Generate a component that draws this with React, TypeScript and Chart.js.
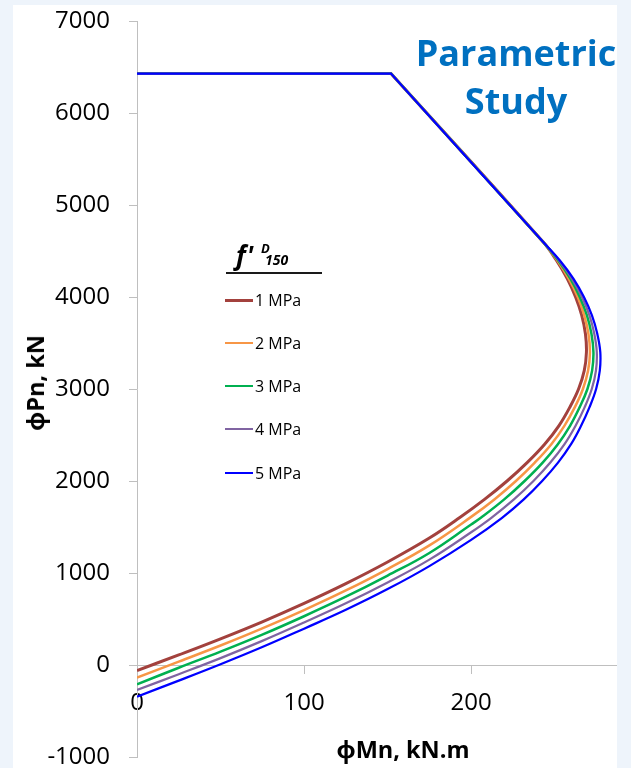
import React, { useEffect, useRef } from "react";
import { Chart, registerables } from "chart.js";

Chart.register(...registerables);

const FONT = '"Open Sans", "Noto Sans", "DejaVu Sans", sans-serif';

// ---- data ----
const seriesLabels = ["1 MPa", "2 MPa", "3 MPa", "4 MPa", "5 MPa"];
const seriesColors = ["#A3413D", "#F79646", "#00B050", "#8064A2", "#0000FF"];
const seriesWidths = [3, 2.5, 2.5, 2.25, 2.25];

// shared compression branch: plateau then straight descent (kink listed twice so it stays sharp)
const capMn = [0, 152, 152, 243];
const capPn = [6429, 6429, 6429, 4600];

const mn1 = [251, 257.5, 262.5, 266.2, 268.4, 269, 267.7, 264.3, 259, 252.5, 244, 233.5, 221.5, 208, 193, 175, 150, 125, 100, 75, 50, 25, 0];
const pn1 = [4400, 4200, 4000, 3800, 3600, 3400, 3200, 3000, 2800, 2600, 2400, 2200, 2000, 1800, 1600, 1380, 1120, 885, 670, 470, 285, 110, -60];

const mn2 = [251.5, 258.4, 263.8, 267.7, 270.2, 271.1, 270, 266.9, 262, 255.8, 248, 238.1, 226.8, 213.9, 200, 175, 150, 125, 100, 75, 50, 25, 0];
const pn2 = [4400, 4200, 4000, 3800, 3600, 3400, 3200, 3000, 2800, 2600, 2400, 2200, 2000, 1800, 1610, 1300, 1043, 810, 597, 398, 212, 37, -138];

const mn3 = [252, 259.4, 265, 269.3, 272, 273.2, 272.4, 269.6, 264.9, 259.2, 251.9, 242.8, 232, 219.8, 205.8, 200, 175, 150, 125, 100, 75, 50, 25, 0];
const pn3 = [4400, 4200, 4000, 3800, 3600, 3400, 3200, 3000, 2800, 2600, 2400, 2200, 2000, 1800, 1600, 1527, 1218, 972, 742, 530, 330, 145, -30, -210];

const mn4 = [252.5, 260.3, 266.3, 270.8, 273.7, 275.2, 274.7, 272.2, 267.9, 262.5, 255.9, 247.4, 237.3, 225.6, 212.1, 200, 175, 150, 125, 100, 75, 50, 25, 0];
const pn4 = [4400, 4200, 4000, 3800, 3600, 3400, 3200, 3000, 2800, 2600, 2400, 2200, 2000, 1800, 1600, 1443, 1145, 897, 670, 462, 262, 75, -100, -271];

const mn5 = [253, 261.2, 267.5, 272.3, 275.5, 277.3, 277, 274.8, 270.8, 265.8, 259.8, 252, 242.5, 231.5, 218.5, 200, 175, 150, 125, 100, 75, 50, 25, 0];
const pn5 = [4400, 4200, 4000, 3800, 3600, 3400, 3200, 3000, 2800, 2600, 2400, 2200, 2000, 1800, 1600, 1360, 1075, 825, 600, 395, 195, 8, -170, -344];

const mnSeries = [mn1, mn2, mn3, mn4, mn5];
const pnSeries = [pn1, pn2, pn3, pn4, pn5];

const xTickValues = [0, 100, 200];
const xMin = 0;
const xMax = 287;
const yTickValues = [-1000, 0, 1000, 2000, 3000, 4000, 5000, 6000, 7000];

const legendTitleMain = "f'";
const legendTitleSup = "D";
const legendTitleSub = "150";
const xTitle = "ϕMn, kN.m";
const yTitle = "ϕPn, kN";
const noteLines = ["Parametric", "Study"];

const AXIS_GREY = "#BFBFBF";

export default function App() {
  const ref = useRef<HTMLCanvasElement | null>(null);

  useEffect(() => {
    document.body.style.margin = "0";
    const canvas = ref.current;
    if (!canvas) return;
    const datasets = seriesLabels.map((label, i) => ({
      label,
      data: [
        ...capMn.map((x, j) => ({ x, y: capPn[j] })),
        ...mnSeries[i].map((x, j) => ({ x, y: pnSeries[i][j] })),
      ],
      borderColor: seriesColors[i],
      backgroundColor: seriesColors[i],
      borderWidth: seriesWidths[i],
      showLine: true,
      pointRadius: 0,
      pointHoverRadius: 0,
      tension: 0.4,
      fill: false,
      order: seriesLabels.length - 1 - i,
    }));

    const chart = new Chart(canvas, {
      type: "scatter",
      data: { datasets },
      options: {
        animation: false,
        responsive: false,
        devicePixelRatio: 1,
        events: [],
        layout: { padding: { top: 21, right: 14.5, bottom: 11, left: 0 } },
        plugins: {
          legend: { display: false },
          tooltip: { enabled: false },
        },
        scales: {
          x: {
            type: "linear",
            position: { y: 0 },
            min: xMin,
            max: xMax,
            afterBuildTicks: (s: any) => {
              s.ticks = xTickValues.map((v) => ({ value: v }));
            },
            ticks: {
              font: { family: FONT, size: 24 },
              color: "#000",
              padding: 16,
              maxRotation: 0,
              autoSkip: false,
              callback: (v: any) => String(v),
            },
            grid: {
              drawOnChartArea: false,
              drawTicks: true,
              tickLength: 8,
              color: AXIS_GREY,
              tickColor: AXIS_GREY,
              lineWidth: 1,
            },
            border: { display: true, color: AXIS_GREY, width: 1 },
          },
          y: {
            type: "linear",
            min: yTickValues[0],
            max: yTickValues[yTickValues.length - 1],
            afterBuildTicks: (s: any) => {
              s.ticks = yTickValues.map((v) => ({ value: v }));
            },
            afterFit: (s: any) => {
              s.width = 137;
              s.paddingTop = 0;
              s.paddingBottom = 0;
            },
            ticks: {
              font: { family: FONT, size: 24, lineHeight: 0.9 },
              color: "#000",
              padding: 19,
              autoSkip: false,
              callback: (v: any) => String(v),
            },
            grid: {
              drawOnChartArea: false,
              drawTicks: true,
              tickLength: 8,
              color: AXIS_GREY,
              tickColor: AXIS_GREY,
              lineWidth: 1,
            },
            border: { display: true, color: AXIS_GREY, width: 1 },
          },
        },
      },
    });
    return () => chart.destroy();
  }, []);

  const itemY = [300, 343, 386, 429, 473];

  return (
    <div
      style={{
        position: "relative",
        width: 631,
        height: 768,
        background: "#EEF4FB",
        overflow: "hidden",
        fontFamily: FONT,
      }}
    >
      <div
        style={{
          position: "absolute",
          left: 13,
          top: 5,
          width: 604,
          height: 763,
          background: "#FFFFFF",
        }}
      />
      <canvas
        ref={ref}
        width={631}
        height={768}
        style={{ position: "absolute", left: 0, top: 0, width: 631, height: 768 }}
      />

      {/* axis titles */}
      <div
        style={{
          position: "absolute",
          left: 35,
          top: 383,
          transform: "translate(-50%, -50%) rotate(-90deg)",
          fontWeight: 700,
          fontSize: 23.5,
          lineHeight: "28px",
          whiteSpace: "nowrap",
          color: "#000",
        }}
      >
        {yTitle}
      </div>
      <div
        style={{
          position: "absolute",
          left: 403,
          top: 749,
          transform: "translate(-50%, -50%)",
          fontWeight: 700,
          fontSize: 23.5,
          lineHeight: "28px",
          whiteSpace: "nowrap",
          color: "#000",
        }}
      >
        {xTitle}
      </div>

      {/* annotation */}
      <div
        style={{
          position: "absolute",
          left: 410,
          top: 29,
          width: 212,
          textAlign: "center",
          color: "#0070C0",
          fontWeight: 700,
          fontSize: 36,
          lineHeight: "48px",
          whiteSpace: "nowrap",
        }}
      >
        {noteLines.map((t) => (
          <div key={t}>{t}</div>
        ))}
      </div>

      {/* legend */}
      <span
        style={{
          position: "absolute",
          left: 236,
          top: 242,
          fontSize: 26,
          lineHeight: "26px",
          fontStyle: "italic",
          fontWeight: 700,
          color: "#000",
          whiteSpace: "nowrap",
          letterSpacing: 1,
        }}
      >
        {legendTitleMain}
      </span>
      <span
        style={{
          position: "absolute",
          left: 261,
          top: 242,
          fontSize: 13,
          lineHeight: "13px",
          fontStyle: "italic",
          fontWeight: 700,
          color: "#000",
        }}
      >
        {legendTitleSup}
      </span>
      <span
        style={{
          position: "absolute",
          left: 265,
          top: 253,
          fontSize: 14,
          lineHeight: "14px",
          fontStyle: "italic",
          fontWeight: 700,
          color: "#000",
        }}
      >
        {legendTitleSub}
      </span>
      <div
        style={{
          position: "absolute",
          left: 226,
          top: 272,
          width: 96,
          height: 2,
          background: "#1a1a1a",
        }}
      />
      {seriesLabels.map((label, i) => (
        <React.Fragment key={label}>
          <div
            style={{
              position: "absolute",
              left: 225,
              top: itemY[i] - seriesWidths[i] / 2,
              width: 28,
              height: seriesWidths[i],
              background: seriesColors[i],
            }}
          />
          <span
            style={{
              position: "absolute",
              left: 255,
              top: itemY[i] - 8.5,
              fontSize: 16,
              lineHeight: "16px",
              color: "#000",
              whiteSpace: "nowrap",
            }}
          >
            {label}
          </span>
        </React.Fragment>
      ))}
    </div>
  );
}
